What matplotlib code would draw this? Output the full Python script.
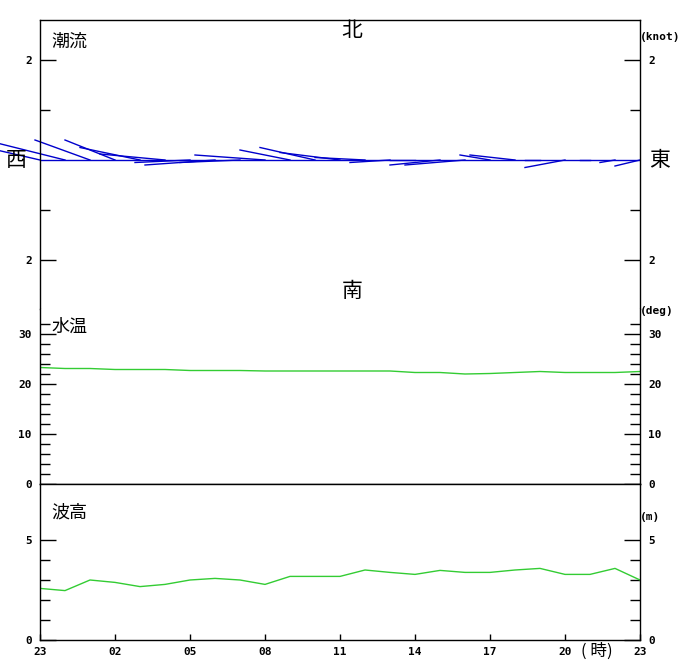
import matplotlib
matplotlib.use('Agg')
import matplotlib.pyplot as plt
import numpy as np

# hours from 23h of the previous day (index 0) to 23h (index 24)
hours = np.arange(25)
xlabels = ['23', '02', '05', '08', '11', '14', '17', '20', '23']

# tidal current components (knot), east (u) and north (v)
cur_u = [-1.3, -1.4, -1.1, -1.0, -1.2, -1.3, -1.1, -1.4, -1.2, -1.4, -1.0, -1.1, -1.2,
         -1.0, -0.8, -0.5, -1.0, -1.2, -0.6, -0.9, -0.3, -0.8, -0.2, -0.3, -0.5]
cur_v = [0.30, 0.35, 0.40, 0.40, 0.25, 0.12, -0.05, -0.10, -0.05, 0.10, 0.20, 0.25, 0.15,
         0.05, -0.05, 0.00, -0.10, -0.10, 0.10, 0.10, 0.00, -0.15, 0.00, -0.05, -0.12]

# water temperature (deg)
temp = [23.3, 23.1, 23.1, 22.9, 22.9, 22.9, 22.7, 22.7, 22.7, 22.6, 22.6, 22.6, 22.6,
        22.6, 22.6, 22.3, 22.3, 22.0, 22.1, 22.3, 22.5, 22.3, 22.3, 22.3, 22.5]

# wave height (m)
wave = [2.58, 2.47, 3.0, 2.88, 2.67, 2.78, 3.0, 3.08, 3.0, 2.78, 3.18, 3.18, 3.18,
        3.5, 3.38, 3.28, 3.48, 3.38, 3.38, 3.5, 3.58, 3.28, 3.28, 3.58, 3.0]

W, H = 680, 660
fig = plt.figure(figsize=(W / 100, H / 100), dpi=100)

def box(top, bottom):
    return [40 / W, (H - bottom) / H, 600 / W, (bottom - top) / H]

ax_cur = fig.add_axes(box(20, 309))
ax_tmp = fig.add_axes(box(309, 484))
ax_wav = fig.add_axes(box(484, 640))

tickfont = dict(family='DejaVu Sans Mono', weight='bold', size=8)
jp = ['Noto Sans CJK JP', 'DejaVu Sans']

def style(ax, majors, minors, labels):
    ax.set_xlim(0, 24)
    ax.set_yticks(majors)
    ax.set_yticklabels(labels, fontdict=tickfont)
    ax.set_yticks(minors, minor=True)
    ax.tick_params(axis='y', which='both', direction='in', left=True, right=True,
                   labelleft=True, labelright=True, pad=6, colors='black')
    ax.tick_params(axis='y', which='major', length=11.5, width=1)
    ax.tick_params(axis='y', which='minor', length=7.2, width=1)
    ax.tick_params(axis='x', which='both', bottom=False, labelbottom=False)
    for s in ax.spines.values():
        s.set_linewidth(1)

def label(x, y, s, **kw):
    fig.text(x / W, 1 - y / H, s, va='center', color='black', **kw)

# current panel
ax_cur.set_ylim(-2.98, 2.8)
style(ax_cur, [-2, 2], [-1, 1], ['2', '2'])
ax_cur.spines['bottom'].set_visible(False)
ax_cur.axhline(0, color='#0000cc', lw=1)
for h, u, v in zip(hours, cur_u, cur_v):
    ax_cur.plot([h, h + 2 * u], [0, v], color='#0000cc', lw=1, clip_on=False)
label(51, 42, '潮流', fontsize=13, family=jp, ha='left')
label(352, 31, '北', fontsize=15, family=jp, ha='center')
label(352, 291, '南', fontsize=15, family=jp, ha='center')
label(16, 160, '西', fontsize=15, family=jp, ha='center')
label(660, 160, '東', fontsize=15, family=jp, ha='center')
label(660, 37, '(knot)', ha='center', **tickfont)

# temperature panel
ax_tmp.set_ylim(0, 35)
style(ax_tmp, [0, 10, 20, 30], [2, 4, 6, 8, 12, 14, 16, 18, 22, 24, 26, 28, 32],
      ['0', '10', '20', '30'])
ax_tmp.spines['top'].set_visible(False)
ax_tmp.plot(hours, temp, color='#33cc33', lw=1)
label(51, 327, '水温', fontsize=13, family=jp, ha='left')
label(657, 311, '(deg)', ha='center', **tickfont)

# wave panel
ax_wav.set_ylim(0, 7.8)
style(ax_wav, [0, 5], [1, 2, 3, 4], ['0', '5'])
ax_wav.plot(hours, wave, color='#33cc33', lw=1)
ax_wav.set_xticks(np.arange(0, 25, 3))
ax_wav.set_xticklabels(xlabels, fontdict=tickfont)
ax_wav.tick_params(axis='x', which='both', bottom=True, labelbottom=True,
                   direction='in', length=4.5, width=1, pad=5)
label(51, 513, '波高', fontsize=13, family=jp, ha='left')
label(650, 517, '(m)', ha='center', **tickfont)
label(597, 651, '( 時)', fontsize=12, family=jp, ha='center')

fig.savefig('out.png', dpi=100)
